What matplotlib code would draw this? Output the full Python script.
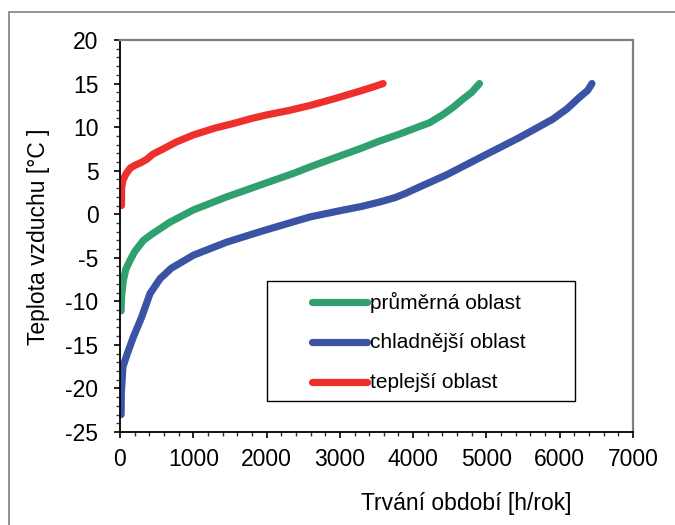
import matplotlib
matplotlib.use("Agg")
import matplotlib.pyplot as plt
from matplotlib.patches import Rectangle
from matplotlib.lines import Line2D
from matplotlib.ticker import MultipleLocator

plt.rcParams['font.family'] = ['Liberation Sans', 'DejaVu Sans']
plt.rcParams['axes.unicode_minus'] = False

# Data: duration (h/year) vs. air temperature (°C)
red_x = [20, 22, 40, 80, 140, 200, 280, 365, 450, 590, 770, 1000, 1300, 1540, 1800, 2000, 2300, 2600, 2900, 3100, 3300, 3450, 3590]
red_y = [1.0, 3.0, 3.9, 4.6, 5.3, 5.6, 5.9, 6.3, 6.9, 7.5, 8.3, 9.1, 9.9, 10.4, 11.0, 11.4, 11.9, 12.5, 13.2, 13.7, 14.2, 14.6, 15.0]

green_x = [15, 20, 45, 80, 137, 200, 319, 450, 684, 1003, 1458, 1914, 2370, 2598, 2906, 3300, 3542, 3815, 4000, 4223, 4400, 4550, 4677, 4800, 4905]
green_y = [-11.1, -9.5, -7.6, -6.3, -5.3, -4.3, -3.0, -2.2, -0.9, 0.5, 2.0, 3.35, 4.7, 5.45, 6.4, 7.6, 8.4, 9.2, 9.8, 10.5, 11.4, 12.3, 13.2, 14.0, 15.0]

blue_x = [15, 18, 40, 100, 182, 296, 410, 547, 700, 1003, 1458, 1914, 2370, 2598, 3000, 3300, 3542, 3750, 3900, 4000, 4451, 4905, 5450, 5903, 6100, 6267, 6380, 6440]
blue_y = [-23.0, -20.5, -17.5, -16.0, -14.1, -11.8, -9.1, -7.4, -6.2, -4.7, -3.2, -2.0, -0.86, -0.3, 0.4, 0.9, 1.4, 1.9, 2.4, 2.8, 4.5, 6.46, 8.8, 10.9, 12.1, 13.4, 14.2, 15.0]

labels = ["průměrná oblast", "chladnější oblast", "teplejší oblast"]
colors = ["#31a06f", "#3a53a4", "#ee302d"]

W, H = 675, 525
def fx(px):
    return px / W
def fy(py):
    return 1 - py / H

fig = plt.figure(figsize=(W / 100, H / 100), dpi=100)
fig.patch.set_facecolor("white")

# outer frame
fig.patches.append(Rectangle((fx(9), -0.1), 1.2, fy(12) + 0.1, transform=fig.transFigure,
                             fill=False, edgecolor="#808080", linewidth=1.2))

left, right, top, bottom = 120, 633, 40, 432
ax = fig.add_axes([fx(left), fy(bottom), (right - left) / W, (bottom - top) / H])

lw = 5.2
series = [(green_x, green_y), (blue_x, blue_y), (red_x, red_y)]
for (xs, ys), c in zip(series, colors):
    ax.plot(xs, ys, color=c, lw=lw, solid_capstyle="round", solid_joinstyle="round")

ax.set_xlim(0, 7000)
ax.set_ylim(-25, 20)
ax.xaxis.set_major_locator(MultipleLocator(1000))
ax.xaxis.set_minor_locator(MultipleLocator(200))
ax.yaxis.set_major_locator(MultipleLocator(5))
ax.yaxis.set_minor_locator(MultipleLocator(1))
ax.tick_params(which="major", direction="out", length=4.5, width=1.2, labelsize=16.5, color="black")
ax.tick_params(which="minor", direction="out", length=3, width=1.0, color="#333333")
ax.tick_params(axis="y", which="major", pad=11)
ax.tick_params(axis="x", which="major", pad=7)

for s in ["left", "bottom"]:
    ax.spines[s].set_color("black")
    ax.spines[s].set_linewidth(1.3)
for s in ["top", "right"]:
    ax.spines[s].set_color("#808080")
    ax.spines[s].set_linewidth(1.6)

fig.text(fx(39), fy(237), "Teplota vzduchu [°C ]", rotation=90, fontsize=16.5,
         ha="center", va="center")
fig.text(fx(466), fy(510), "Trvání období [h/rok]", fontsize=16.5, ha="center", va="baseline")

# legend box (drawn manually to match the reference layout)
fig.patches.append(Rectangle((fx(267), fy(401)), (575 - 267) / W, (401 - 281) / H,
                             transform=fig.transFigure, fill=False, edgecolor="black",
                             linewidth=1.0, zorder=5))
for i, (lab, c) in enumerate(zip(labels, colors)):
    yy = 302 + 40 * i
    fig.lines.append(Line2D([fx(312), fx(367)], [fy(yy), fy(yy)], transform=fig.transFigure,
                            color=c, lw=lw, solid_capstyle="round"))
    fig.text(fx(370), fy(yy), lab, fontsize=15, ha="left", va="center")

fig.savefig("out.png", dpi=100)
